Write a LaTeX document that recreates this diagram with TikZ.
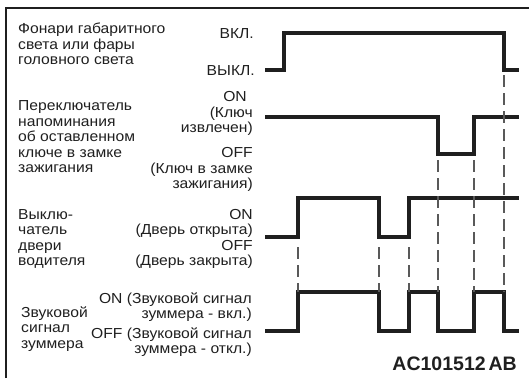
\documentclass[tikz,border=0pt]{standalone}
\usepackage{fontspec}
\setmainfont{Liberation Sans}[FakeStretch=1.08]
\newfontfamily\codefont{Liberation Sans}
\begin{document}
\begin{tikzpicture}[x=1pt,y=-1pt,
  txt/.style={font=\fontsize{14.5}{15.5}\selectfont, text=black!88, inner sep=0pt},
  lbl/.style={txt, align=left, anchor=north west},
  lvl/.style={txt, align=right, anchor=north east},
  wave/.style={line width=3.4pt, draw=black!88, line join=miter, line cap=butt},
  guide/.style={line width=1.1pt, draw=black!65, dash pattern=on 12pt off 6pt},
  frame/.style={line width=1.5pt, draw=black!88}]
\useasboundingbox (0,0) rectangle (529,378);

% outer frame (left and top edges)
\draw[frame] (6,378) -- (6,8) -- (529,8);

% signal names
\node[lbl] (name1) at (18,23.0) {Фонари габаритного\\света или фары\\головного света};
\node[lbl] (name2) at (18,100.5) {Переключатель\\напоминания\\об оставленном\\ключе в замке\\зажигания};
\node[lbl] (name3) at (18,209.0) {Выклю-\\чатель\\двери\\водителя};
\node[lbl] (name4) at (21,306.5) {Звуковой\\сигнал\\зуммера};

% level names
\node[txt, anchor=base east] (on1)  at (254,38) {ВКЛ.};
\node[txt, anchor=base east] (off1) at (255,75) {ВЫКЛ.};
\node[lvl] (on2)  at (253,91.5)  {ON\hspace*{6pt}\\(Ключ\\извлечен)};
\node[lvl] (off2) at (253,147.5) {OFF\\(Ключ в замке\\зажигания)};
\node[lvl] (on3)  at (253,209.0) {ON\\(Дверь открыта)};
\node[lvl] (off3) at (253,240.0) {OFF\\(Дверь закрыта)};
\node[lvl] (on4)  at (252,292.5) {ON (Звуковой сигнал\\зуммера - вкл.)};
\node[lvl] (off4) at (252,327.5) {OFF (Звуковой сигнал\\зуммера - откл.)};

% timing waveforms
\draw[wave] (265,70) -- (284,70) -- (284,33) -- (504,33) -- (504,70) -- (519,70);
\draw[wave] (265,117) -- (438,117) -- (438,154) -- (474,154) -- (474,117) -- (519,117);
\draw[wave] (265,237) -- (298,237) -- (298,198) -- (379,198) -- (379,237)
  -- (409,237) -- (409,198) -- (519,198);
\draw[wave] (265,331) -- (298,331) -- (298,292) -- (379,292) -- (379,331)
  -- (409,331) -- (409,292) -- (438,292) -- (438,331) -- (474,331)
  -- (474,292) -- (504,292) -- (504,331) -- (519,331);

% transition guides
\coordinate (g1a) at (298,247); \coordinate (g1b) at (298,292);
\coordinate (g2a) at (379,247); \coordinate (g2b) at (379,292);
\coordinate (g3a) at (409,247); \coordinate (g3b) at (409,292);
\coordinate (g4a) at (438,160); \coordinate (g4b) at (438,292);
\coordinate (g5a) at (474,160); \coordinate (g5b) at (474,292);
\coordinate (g6a) at (504,75);  \coordinate (g6b) at (504,292);
\foreach \g in {1,...,6} \draw[guide] (g\g a) -- (g\g b);

% drawing number
\node[font=\codefont\bfseries\fontsize{19.5}{20}\selectfont, text=black!88, inner sep=0pt, anchor=base east]
  (code) at (517,370) {AC101512\hspace{-2.5pt} AB};
\end{tikzpicture}
\end{document}
